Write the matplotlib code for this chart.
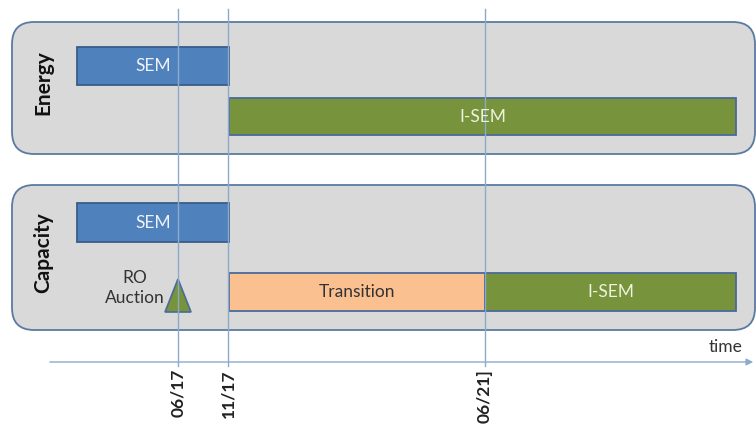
import matplotlib
matplotlib.use("Agg")
import matplotlib.pyplot as plt
from matplotlib.patches import FancyBboxPatch, Rectangle, Polygon

plt.rcParams['font.family'] = ['Lato', 'DejaVu Sans']

# timeline positions (arbitrary layout units along time axis)
milestones = ["06/17", "11/17", "06/21]"]
milestone_x = [178, 228, 485]
timeline_start = 77
timeline_end = 736

# panels
panels = ["Energy", "Capacity"]

# bars: (panel, row, start, end, label, color)
bar_panel = ["Energy", "Energy", "Capacity", "Capacity", "Capacity"]
bar_row = [0, 1, 0, 1, 1]
bar_start = [77, 229, 77, 229, 485]
bar_end = [229, 736, 229, 485, 736]
bar_label = ["SEM", "I-SEM", "SEM", "Transition", "I-SEM"]
bar_kind = ["sem", "isem", "sem", "trans", "isem"]

event_label = "RO\nAuction"
event_x = 178

fig = plt.figure(figsize=(7.56, 4.26), dpi=100)
ax = fig.add_axes([0, 0, 1, 1])
ax.set_xlim(0, 756)
ax.set_ylim(426, 0)
ax.axis("off")

panel_box = {"Energy": (12, 22, 154), "Capacity": (12, 185, 330)}
row_y = {"Energy": [(47, 85), (98, 135)], "Capacity": [(203, 242), (273, 311)]}
colors = {"sem": ("#4f81bd", "#385d8a", "#eef2f8"),
          "isem": ("#77933c", "#4a6a9a", "#eef2e0"),
          "trans": ("#fac090", "#4a6a9a", "#333333")}

for p in panels:
    x0, y0, y1 = panel_box[p]
    patch = FancyBboxPatch((x0, y0), 756 - x0 - 1, y1 - y0,
                           boxstyle="round,pad=0,rounding_size=22",
                           facecolor="#d9d9d9", edgecolor="#5a7aa3", linewidth=1.3, zorder=1)
    ax.add_patch(patch)
    ax.text(43, (y0 + y1) / 2 - 5, p, rotation=90, ha="center", va="center",
            fontsize=15, fontweight="bold", color="#111111", zorder=5)

for pan, r, s, e, lab, k in zip(bar_panel, bar_row, bar_start, bar_end, bar_label, bar_kind):
    ya, yb = row_y[pan][r]
    fc, ec, tc = colors[k]
    ax.add_patch(Rectangle((s, ya), e - s, yb - ya, facecolor=fc, edgecolor=ec,
                           linewidth=1.3, zorder=3))
    ax.text((s + e) / 2, (ya + yb) / 2, lab, ha="center", va="center",
            fontsize=12.5, color=tc, zorder=5)

# milestone vertical lines
for mx, ml in zip(milestone_x, milestones):
    ax.plot([mx, mx], [9, 366], color="#8eaacb", linewidth=1.0, zorder=4)
    ax.text(mx, 369, ml, rotation=90, ha="center", va="top", fontsize=12.5,
            fontweight="bold", color="#222222")

# RO auction triangle
tri = Polygon([(event_x - 13, 312), (event_x + 13, 312), (event_x, 279)], closed=True,
              facecolor="#77933c", edgecolor="#4a6a9a", linewidth=1.2, zorder=3)
ax.add_patch(tri)
ax.text(event_x - 13, 288, event_label, ha="right", va="center", fontsize=12.5,
        color="#333333", linespacing=1.3, multialignment="center", zorder=5)

# time axis
ax.annotate("", xy=(756, 362), xytext=(47, 362),
            arrowprops=dict(arrowstyle="-|>", color="#8eaacb", lw=1.0))
ax.text(743, 355, "time", ha="right", va="bottom", fontsize=12.5, color="#333333")

fig.savefig("out.png", dpi=100)
